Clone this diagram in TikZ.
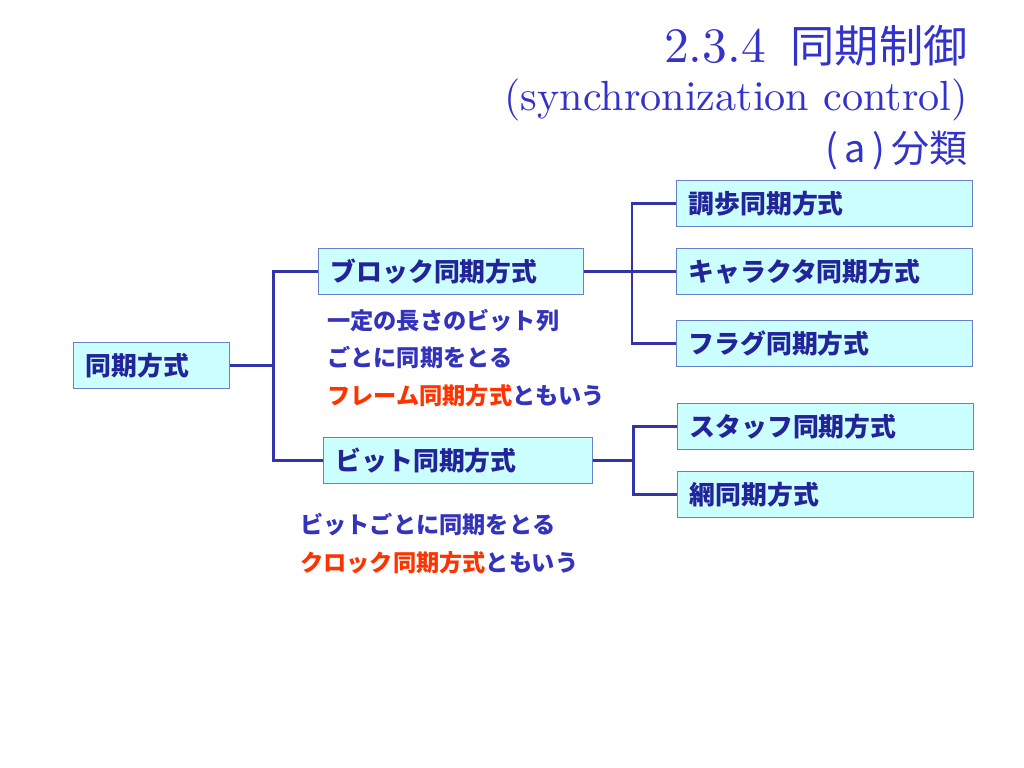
\documentclass[tikz,border=0pt]{standalone}
\usepackage{fontspec}
\newfontfamily\jp{Noto Sans CJK JP}
\newfontfamily\lmten{lmroman10-regular}[Extension=.otf]
\usetikzlibrary{positioning}
\definecolor{titleblue}{HTML}{3333CC}
\definecolor{boxtext}{HTML}{24249A}
\definecolor{notetext}{HTML}{3333BB}
\definecolor{notered}{HTML}{FF3300}
\definecolor{boxfill}{HTML}{CCFFFF}
\definecolor{boxedge}{HTML}{6680CC}
\definecolor{linkblue}{HTML}{3333AA}

\begin{document}
\begin{tikzpicture}[x=0.025cm, y=-0.025cm]
\tikzset{
   mybox/.style={rectangle, draw=boxedge, fill=boxfill, line width=0.8pt, anchor=north west, minimum height=1.15cm, inner xsep=0.3cm, align=left, text=boxtext, font=\jp\bfseries\fontsize{18.4}{23}\selectfont},
   mynote/.style={anchor=north west, align=left, inner sep=0pt, text=notetext, font=\jp\bfseries\fontsize{16.5}{26.5}\selectfont},
   mytitle/.style={anchor=east, inner sep=0pt, text=titleblue},
   link/.style={draw=linkblue, line width=2.1pt},
}
\useasboundingbox[fill=white] (0,0) rectangle (1024,768);

% title
\node[mytitle, font=\lmten\fontsize{35.2}{42}\selectfont] (title) at (968,46) {2.3.4\hspace{0.5em}{\jp\fontsize{31.5}{40}\selectfont 同期制御}};
\node[mytitle, font=\lmten\fontsize{30}{36}\selectfont] (subtitle) at (968,100) {(synchronization control)};
\node[mytitle, font=\jp\fontsize{27}{32}\selectfont] (part) at (968,150) {(\,a\,)\,分類};

% boxes
\node[mybox, text width=3.3cm] (sync) at (73,342) {同期方式};
\node[mybox, text width=6.025cm] (block) at (318,248) {ブロック同期方式};
\node[mybox, text width=6.125cm] (bit) at (323,437) {ビット同期方式};
\node[mybox, text width=6.8cm] (start) at (676,180) {調歩同期方式};
\node[mybox, text width=6.8cm] (chara) at (676,248) {キャラクタ同期方式};
\node[mybox, text width=6.8cm] (flag) at (676,320) {フラグ同期方式};
\node[mybox, text width=6.8cm] (stuff) at (677,403) {スタッフ同期方式};
\node[mybox, text width=6.8cm] (net) at (677,471) {網同期方式};

% notes
\node[mynote] (blocknote) at (327,309) {一定の長さのビット列\\ごとに同期をとる\\{\color{notered}フレーム同期方式}ともいう};
\node[mynote, font=\jp\bfseries\fontsize{16.5}{27}\selectfont] (bitnote) at (300,513) {ビットごとに同期をとる\\{\color{notered}クロック同期方式}ともいう};

% connectors
\draw[link] (sync.east) -- ++(43,0) |- (block.west);
\draw[link] (sync.east) -- ++(43,0) |- (bit.west);
\draw[link] (block.east) -- (chara.west);
\draw[link] (start.west) -- ++(-44,0) |- (flag.west);
\draw[link] (bit.east) -- ++(40,0) |- (stuff.west);
\draw[link] (bit.east) -- ++(40,0) |- (net.west);

\end{tikzpicture}
\end{document}
